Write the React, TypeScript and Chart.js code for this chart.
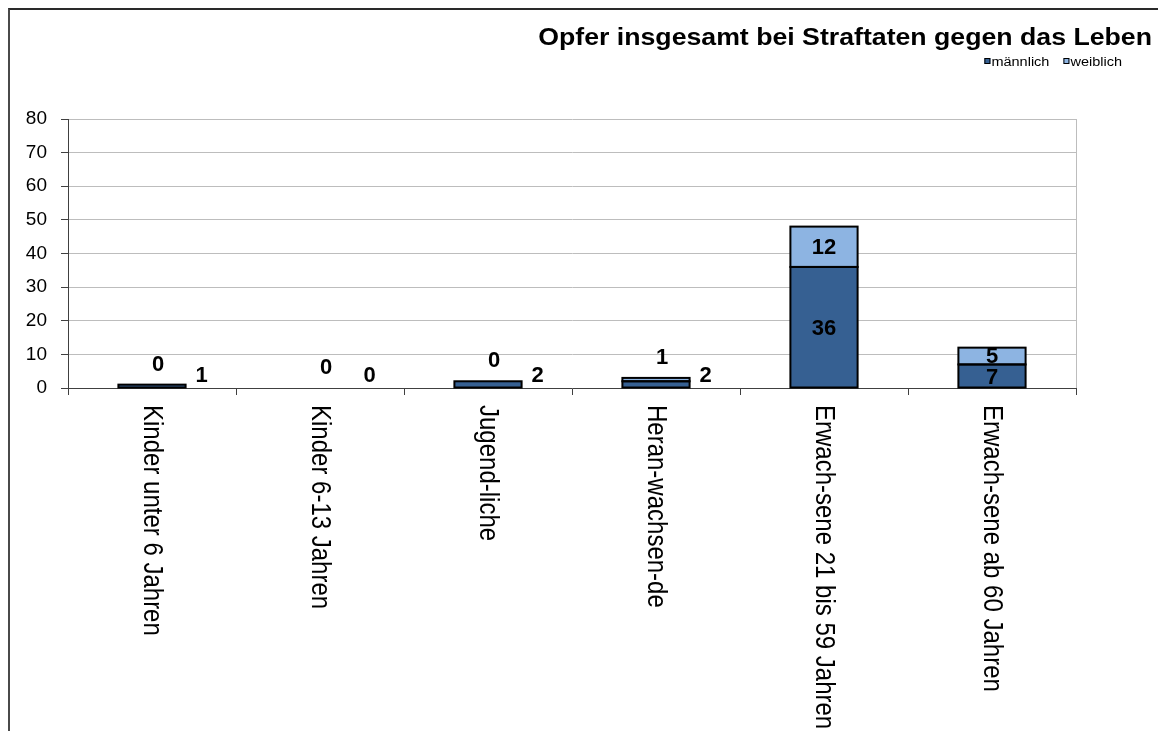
import React, { useEffect, useRef } from "react";
import { Chart, registerables } from "chart.js";

Chart.register(...registerables);

const categories = [
  "Kinder unter 6 Jahren",
  "Kinder 6-13 Jahren",
  "Jugend-liche",
  "Heran-wachsen-de",
  "Erwach-sene 21 bis 59 Jahren",
  "Erwach-sene ab 60 Jahren",
];
const maleValues = [1, 0, 2, 2, 36, 7];
const femaleValues = [0, 0, 0, 1, 12, 5];
const seriesNames = ["männlich", "weiblich"];
const yTickValues = [0, 10, 20, 30, 40, 50, 60, 70, 80];
const chartTitle = "Opfer insgesamt bei Straftaten gegen das Leben";

const MALE_COLOR = "#366092";
const FEMALE_COLOR = "#8DB4E2";
const FONT = '"Liberation Sans", Arial, Helvetica, sans-serif';
const SX = 1.16;

const outlinePlugin = {
  id: "outline",
  afterDatasetsDraw(chart: any) {
    const ctx: CanvasRenderingContext2D = chart.ctx;
    ctx.save();
    ctx.strokeStyle = "#000";
    ctx.lineWidth = 2;
    chart.data.datasets.forEach((ds: any, di: number) => {
      const meta = chart.getDatasetMeta(di);
      meta.data.forEach((el: any, i: number) => {
        if (!ds.data[i]) return;
        const top = Math.min(el.y, el.base);
        const h = Math.abs(el.base - el.y);
        ctx.strokeRect(el.x - el.width / 2, top, el.width, h);
      });
    });
    ctx.restore();
  },
};

const overlayPlugin = {
  id: "overlay",
  afterDraw(chart: any) {
    const ctx: CanvasRenderingContext2D = chart.ctx;
    const area = chart.chartArea;
    ctx.save();

    // plot-area right border
    ctx.strokeStyle = "#bdbdbd";
    ctx.lineWidth = 1;
    ctx.beginPath();
    ctx.moveTo(Math.round(area.right) + 0.5, area.top);
    ctx.lineTo(Math.round(area.right) + 0.5, area.bottom);
    ctx.stroke();

    // title
    ctx.fillStyle = "#000";
    ctx.font = `bold 23px ${FONT}`;
    ctx.textAlign = "right";
    ctx.textBaseline = "alphabetic";
    ctx.save();
    ctx.translate(chart.width - 6, 35);
    ctx.scale(SX, 1);
    ctx.fillText(chartTitle, 0, 0);
    ctx.restore();

    // legend
    ctx.font = `12.5px ${FONT}`;
    const colors = [MALE_COLOR, FEMALE_COLOR];
    const box = 6;
    const gap = 1;
    const itemGap = 14;
    const widths = seriesNames.map((n) => ctx.measureText(n).width * SX);
    const total =
      widths.reduce((a, w) => a + box + gap + w, 0) + itemGap * (seriesNames.length - 1);
    let lx = chart.width - 36 - total;
    const ly = 56;
    ctx.textAlign = "left";
    seriesNames.forEach((n, i) => {
      ctx.fillStyle = colors[i];
      ctx.fillRect(lx, ly - 8, box, box);
      ctx.strokeStyle = "#000";
      ctx.lineWidth = 1;
      ctx.strokeRect(lx + 0.5, ly - 7.5, box - 1, box - 1);
      ctx.fillStyle = "#000";
      ctx.save();
      ctx.translate(lx + box + gap, ly);
      ctx.scale(SX, 1);
      ctx.fillText(n, 0, 0);
      ctx.restore();
      lx += box + gap + widths[i] + itemGap;
    });

    // category labels (rotated clockwise)
    const xScale = chart.scales.x;
    ctx.font = `24px ${FONT}`;
    ctx.fillStyle = "#000";
    ctx.textAlign = "left";
    ctx.textBaseline = "middle";
    categories.forEach((c, i) => {
      const x = xScale.getPixelForValue(i);
      ctx.save();
      ctx.translate(x, area.bottom + 17);
      ctx.scale(SX, 1);
      ctx.rotate(Math.PI / 2);
      ctx.fillText(c, 0, 0);
      ctx.restore();
    });

    // data labels
    ctx.font = `bold 22px ${FONT}`;
    ctx.fillStyle = "#000";
    ctx.textBaseline = "middle";
    const maleMeta = chart.getDatasetMeta(0);
    const femaleMeta = chart.getDatasetMeta(1);
    const yScale = chart.scales.y;
    const zeroY = yScale.getPixelForValue(0);
    categories.forEach((_, i) => {
      const m = maleMeta.data[i];
      const f = femaleMeta.data[i];
      const mh = Math.abs(m.base - m.y);
      const fh = Math.abs(f.base - f.y);
      // male
      if (mh >= 14) {
        ctx.textAlign = "center";
        ctx.fillText(String(maleValues[i]), m.x, (m.y + m.base) / 2 + 2);
      } else {
        ctx.textAlign = "left";
        ctx.fillText(String(maleValues[i]), m.x + m.width / 2 + 10, zeroY - 12);
      }
      // female
      if (fh >= 14) {
        ctx.textAlign = "center";
        ctx.fillText(String(femaleValues[i]), f.x, (f.y + f.base) / 2 + 1);
      } else {
        ctx.textAlign = "center";
        ctx.fillText(String(femaleValues[i]), f.x + 6, Math.min(f.y, f.base) - 20);
      }
    });

    ctx.restore();
  },
};

export default function App() {
  const canvasRef = useRef<HTMLCanvasElement | null>(null);

  useEffect(() => {
    document.documentElement.style.overflow = "hidden";
    document.body.style.overflow = "hidden";
    const canvas = canvasRef.current;
    if (!canvas) return;
    const chart = new Chart(canvas, {
      type: "bar",
      data: {
        labels: categories,
        datasets: [
          {
            label: seriesNames[0],
            data: maleValues,
            backgroundColor: MALE_COLOR,
            borderWidth: 0,
            barPercentage: 0.4,
            categoryPercentage: 1,
          },
          {
            label: seriesNames[1],
            data: femaleValues,
            backgroundColor: FEMALE_COLOR,
            borderWidth: 0,
            barPercentage: 0.4,
            categoryPercentage: 1,
          },
        ],
      },
      options: {
        responsive: false,
        animation: false,
        devicePixelRatio: 1,
        layout: { padding: { top: 109, left: 8, right: 82, bottom: 0 } },
        plugins: {
          legend: { display: false },
          title: { display: false },
          tooltip: { enabled: false },
        },
        scales: {
          x: {
            stacked: true,
            grid: {
              offset: true,
              drawOnChartArea: false,
              drawTicks: true,
              tickLength: 7,
              tickColor: "#404040",
            },
            border: { display: true, color: "#404040", width: 1 },
            ticks: { display: false },
            afterFit: (scale: any) => {
              scale.height = 343;
            },
          },
          y: {
            stacked: true,
            min: 0,
            max: 80,
            afterBuildTicks: (scale: any) => {
              scale.ticks = yTickValues.map((v) => ({ value: v }));
            },
            grid: {
              color: "#bdbdbd",
              lineWidth: 1,
              tickLength: 7,
              tickColor: "#404040",
            },
            border: { display: true, color: "#404040", width: 1 },
            ticks: {
              color: "#000",
              padding: 14,
              font: { family: FONT, size: 19 },
            },
            afterFit: (scale: any) => {
              scale.width = 50;
            },
          },
        },
      },
      plugins: [outlinePlugin, overlayPlugin],
    });
    return () => chart.destroy();
  }, []);

  return (
    <div
      style={{
        position: "fixed",
        left: 8,
        top: 8,
        borderLeft: "2px solid #4a4a4a",
        borderTop: "2px solid #2a2a2a",
        width: 1148,
        height: 721,
        background: "#fff",
      }}
    >
      <canvas ref={canvasRef} width={1148} height={721} style={{ display: "block" }} />
    </div>
  );
}
